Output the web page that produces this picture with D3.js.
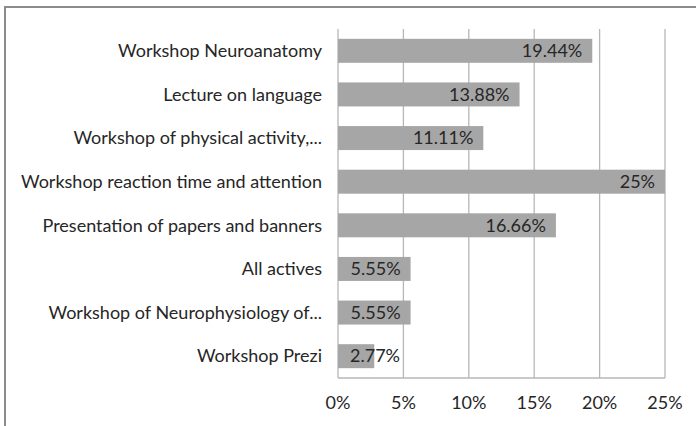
<!DOCTYPE html>
<html>
<head>
<meta charset="utf-8">
<script src="https://cdn.jsdelivr.net/npm/d3@7"></script>
<style>
  body { margin: 0; background: #fff; }
  text { font-family: Lato, "Open Sans", sans-serif; fill: #262626; }
</style>
</head>
<body>
<div id="chart"></div>
<script>
// Data
var categories = [
    "Workshop Neuroanatomy",
    "Lecture on language",
    "Workshop of physical activity,...",
    "Workshop reaction time and attention",
    "Presentation of papers and banners",
    "All actives",
    "Workshop of Neurophysiology of...",
    "Workshop Prezi"
];
var values = [19.44, 13.88, 11.11, 25, 16.66, 5.55, 5.55, 2.77];
var tickValues = [0, 5, 10, 15, 20, 25];

var width = 696,
    height = 426;

// plot area (window.top is reserved, so use other names)
var plotLeft = 338, plotRight = 665, plotTop = 29, plotBottom = 378;

var svg = d3.select("#chart")
    .append("svg")
    .attr("width", width)
    .attr("height", height);

// outer frame (right and bottom edges run off the picture)
svg.append("rect")
    .attr("x", 5)
    .attr("y", 7)
    .attr("width", width + 20)
    .attr("height", height + 20)
    .attr("fill", "none")
    .attr("stroke", "#8c8c8c")
    .attr("stroke-width", 2);

var x = d3.scaleLinear()
    .domain([0, 25])
    .range([plotLeft, plotRight]);

var y = d3.scaleBand()
    .domain(categories)
    .range([plotTop, plotBottom])
    .paddingInner(0.45)
    .paddingOuter(0.225);

var data = categories.map((c, i) => ({cat: c, value: values[i]}));

// vertical gridlines
svg.selectAll("line.grid")
    .data(tickValues)
    .enter()
    .append("line")
    .attr("class", "grid")
    .attr("x1", d => x(d))
    .attr("x2", d => x(d))
    .attr("y1", plotTop)
    .attr("y2", plotBottom)
    .attr("stroke", "#b7b7b7")
    .attr("stroke-width", 1.3);

// bottom axis line
svg.append("line")
    .attr("x1", plotLeft)
    .attr("x2", plotRight)
    .attr("y1", plotBottom)
    .attr("y2", plotBottom)
    .attr("stroke", "#b7b7b7")
    .attr("stroke-width", 1.3);

// bars
svg.selectAll("rect.bar")
    .data(data)
    .enter()
    .append("rect")
    .attr("class", "bar")
    .attr("x", x(0))
    .attr("y", d => y(d.cat))
    .attr("width", d => x(d.value) - x(0))
    .attr("height", y.bandwidth())
    .attr("fill", "#a6a6a6");

// category labels
svg.selectAll("text.cat")
    .data(data)
    .enter()
    .append("text")
    .attr("class", "cat")
    .attr("x", 322)
    .attr("y", d => y(d.cat) + y.bandwidth() / 2)
    .attr("dy", "0.35em")
    .attr("text-anchor", "end")
    .attr("font-size", "18px")
    .text(d => d.cat);

// value labels, inside end of the bar but never left of the bar start
svg.selectAll("text.val")
    .data(data)
    .enter()
    .append("text")
    .attr("class", "val")
    .attr("y", d => y(d.cat) + y.bandwidth() / 2)
    .attr("dy", "0.35em")
    .attr("text-anchor", "end")
    .attr("font-size", "18px")
    .text(d => d.value + "%")
    .attr("x", function (d) {
        var w = this.getComputedTextLength();
        return Math.max(x(d.value) - 10, x(0) + 12 + w);
    });

// x tick labels
svg.selectAll("text.tick")
    .data(tickValues)
    .enter()
    .append("text")
    .attr("class", "tick")
    .attr("x", d => x(d))
    .attr("y", 409)
    .attr("text-anchor", "middle")
    .attr("font-size", "18px")
    .text(d => d + "%");
</script>
</body>
</html>
